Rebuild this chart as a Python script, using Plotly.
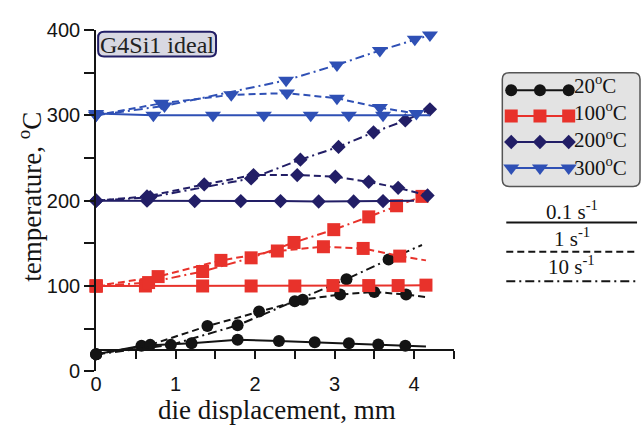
import plotly.graph_objects as go

W, H = 642, 425

# ---- data: die displacement (mm) vs temperature (°C) ----
# preheat 20 °C
T20_R01_X = [0, 0.57, 1.2, 1.78, 2.3, 2.75, 3.18, 3.55, 3.89, 4.15]
T20_R01_Y = [20, 30, 33, 37, 35.5, 34, 33, 31.5, 30, 29]
T20_R1_X = [0, 0.68, 1.4, 2.05, 2.6, 3.07, 3.5, 3.9, 4.15]
T20_R1_Y = [20, 31, 53, 70, 84, 90, 93, 90, 87]
T20_R10_X = [0, 0.94, 1.78, 2.5, 3.15, 3.68, 4.1]
T20_R10_Y = [20, 31, 54, 82, 108, 131, 148]
# preheat 100 °C
T100_R01_X = [0, 0.62, 1.34, 1.95, 2.5, 2.98, 3.43, 3.8, 4.15]
T100_R01_Y = [100, 100, 100, 100, 100, 100.5, 100.5, 100.5, 101]
T100_R1_X = [0, 0.78, 1.57, 2.28, 2.86, 3.36, 3.82, 4.15]
T100_R1_Y = [100, 111, 130, 141, 146, 144, 135, 130]
T100_R10_X = [0, 0.66, 1.34, 1.95, 2.49, 2.99, 3.43, 3.78, 4.1]
T100_R10_Y = [100, 104, 117, 133, 151, 166, 181, 194, 205]
# preheat 200 °C
T200_R01_X = [0, 0.64, 1.24, 1.82, 2.32, 2.8, 3.24, 3.61, 4.0]
T200_R01_Y = [200, 200, 199.5, 199.5, 199.5, 199, 199, 199.5, 200]
T200_R1_X = [0, 0.64, 1.36, 1.98, 2.53, 3.01, 3.43, 3.8, 4.17]
T200_R1_Y = [200, 205, 219, 230, 230, 228, 222, 215, 206]
T200_R10_X = [0, 0.68, 1.95, 2.57, 3.05, 3.49, 3.89, 4.2]
T200_R10_Y = [200, 204, 226, 248, 263, 280, 294, 307]
# preheat 300 °C
T300_R01_X = [0, 0.72, 1.47, 2.11, 2.7, 3.18, 3.61, 4.2]
T300_R01_Y = [302, 300, 300, 300, 300, 300, 300, 300]
T300_R1_X = [0, 0.82, 1.7, 2.4, 3.03, 3.57, 4.03]
T300_R1_Y = [300, 314, 324, 326, 320, 309, 302]
T300_R10_X = [0, 0.86, 2.39, 3.03, 3.57, 4.01, 4.2]
T300_R10_Y = [300, 311, 341, 359, 376, 389, 394]

TEMP_LABELS = ["20", "100", "200", "300"]
RATE_LABELS = ["0.1", "1", "10"]

# (temperature index, rate index, x, y, last point is curve end without sample marker)
SERIES = [
    (0, 0, T20_R01_X, T20_R01_Y, True),
    (0, 1, T20_R1_X, T20_R1_Y, True),
    (0, 2, T20_R10_X, T20_R10_Y, True),
    (1, 0, T100_R01_X, T100_R01_Y, False),
    (1, 1, T100_R1_X, T100_R1_Y, True),
    (1, 2, T100_R10_X, T100_R10_Y, False),
    (2, 0, T200_R01_X, T200_R01_Y, True),
    (2, 1, T200_R1_X, T200_R1_Y, False),
    (2, 2, T200_R10_X, T200_R10_Y, False),
    (3, 0, T300_R01_X, T300_R01_Y, True),
    (3, 1, T300_R1_X, T300_R1_Y, False),
    (3, 2, T300_R10_X, T300_R10_Y, False),
]

# ---- styles ----
COLORS = ["#141414", "#e8322b", "#221e66", "#2f50b5"]
SYMBOLS = ["circle", "square", "diamond", "triangle-down"]
SIZES = [12, 13, 11, 14]
DASHES = ["solid", "7px,4px", "9px,4px,2px,4px"]
SERIF = "Liberation Serif, Times New Roman, serif"
SANS = "Liberation Sans, Arial, sans-serif"
INK = "#141414"

fig = go.Figure()

for ti, ri, xs, ys, tail in SERIES:
    msize = [SIZES[ti]] * len(xs)
    if tail:
        msize[-1] = 0
    fig.add_trace(go.Scatter(
        x=xs, y=ys, mode="lines+markers",
        line=dict(color=COLORS[ti], width=2, dash=DASHES[ri]),
        marker=dict(symbol=SYMBOLS[ti], size=msize, color=COLORS[ti],
                    opacity=1, line=dict(width=0)),
        cliponaxis=False, showlegend=False, xaxis="x", yaxis="y",
    ))

# ---- legend key, drawn on a pixel-space axis right of the plot ----
KEY_LEFT = 470
KEY_X = [510, 539, 568]
KEY_FONT = 21
KEY_STEP = KEY_FONT * 1.3          # plotly line height for multi-line text
KEY_MID = 124.5
KEY_ROWS = [KEY_MID + (i - 1.5) * KEY_STEP for i in range(4)]
for ti, row in enumerate(KEY_ROWS):
    fig.add_trace(go.Scatter(
        x=KEY_X, y=[row] * len(KEY_X), mode="lines+markers",
        line=dict(color=COLORS[ti], width=2),
        marker=dict(symbol=SYMBOLS[ti], size=SIZES[ti], color=COLORS[ti],
                    line=dict(width=0)),
        showlegend=False, xaxis="x2", yaxis="y2", hoverinfo="skip",
    ))


def rounded_rect(x0, y0, x1, y1, r, to_paper=False):
    if to_paper:
        fx = lambda v: v / W
        fy = lambda v: 1 - v / H
    else:
        fx = fy = lambda v: v
    pts = [
        ("M", x0 + r, y0), ("L", x1 - r, y0), ("Q", x1, y0, x1, y0 + r),
        ("L", x1, y1 - r), ("Q", x1, y1, x1 - r, y1),
        ("L", x0 + r, y1), ("Q", x0, y1, x0, y1 - r),
        ("L", x0, y0 + r), ("Q", x0, y0, x0 + r, y0),
    ]
    parts = []
    for p in pts:
        cmd, vals = p[0], p[1:]
        coords = []
        for i in range(0, len(vals), 2):
            coords.append(f"{fx(vals[i]):.5f},{fy(vals[i + 1]):.5f}")
        parts.append(cmd + " " + " ".join(coords))
    return " ".join(parts) + " Z"


shapes = [
    dict(type="path", path=rounded_rect(501, 65, 640, 185, 7),
         xref="x2", yref="y2", fillcolor="#e3e3e3",
         line=dict(color="#555555", width=1.5), layer="below"),
    dict(type="path", path=rounded_rect(93, 22, 212, 48, 6, to_paper=True),
         xref="paper", yref="paper", fillcolor="#d8d8e2",
         line=dict(color="#221e66", width=2), layer="above"),
]

RATE_TEXT_Y = [210, 239, 268]
RATE_LINE_Y = [223, 254, 285]
for ri in range(3):
    shapes.append(dict(type="line", xref="x2", yref="y2",
                       x0=505, x1=637, y0=RATE_LINE_Y[ri], y1=RATE_LINE_Y[ri],
                       line=dict(color=INK, width=2, dash=DASHES[ri])))

annotations = [
    dict(text="die displacement, mm", x=274 / W, y=1 - 421 / H,
         xref="paper", yref="paper", showarrow=False,
         font=dict(family=SERIF, size=27, color=INK),
         xanchor="center", yanchor="middle"),
    dict(text="temperature, <sup>o</sup>C", x=24 / W, y=1 - 196 / H,
         xref="paper", yref="paper", showarrow=False, textangle=-90,
         font=dict(family=SERIF, size=27, color=INK),
         xanchor="center", yanchor="middle"),
    dict(text="G4Si1 ideal", x=152.5 / W, y=1 - 35.5 / H,
         xref="paper", yref="paper",
         showarrow=False, font=dict(family=SERIF, size=24, color="#222222"),
         xanchor="center", yanchor="middle"),
    dict(text="<br>".join(f"{t}<sup>o</sup>C" for t in TEMP_LABELS),
         x=571, y=KEY_MID - 4, xref="x2", yref="y2", showarrow=False,
         xanchor="left", yanchor="middle", align="left",
         font=dict(family=SERIF, size=KEY_FONT, color=INK)),
]
for ri in range(3):
    annotations.append(dict(
        text=f"{RATE_LABELS[ri]} s<sup>-1</sup>", x=571, y=RATE_TEXT_Y[ri],
        xref="x2", yref="y2", showarrow=False, xanchor="center",
        yanchor="middle", font=dict(family=SERIF, size=21, color=INK)))

fig.update_layout(
    width=W, height=H, autosize=False,
    margin=dict(l=0, r=0, t=0, b=0),
    paper_bgcolor="white", plot_bgcolor="white",
    showlegend=False,
    xaxis=dict(
        domain=[91 / W, 452 / W], range=[0, 4.5], anchor="free",
        position=1 - 357 / H, showline=True, linecolor=INK, linewidth=2,
        ticks="outside", ticklen=8, tickwidth=2, tickcolor=INK,
        tickvals=[0, 1, 2, 3, 4], ticklabelstandoff=8,
        minor=dict(dtick=0.5, tick0=0, ticks="outside", ticklen=8,
                   tickwidth=2, tickcolor=INK, showgrid=False),
        showgrid=False, zeroline=False,
        tickfont=dict(family=SANS, size=20, color=INK),
    ),
    yaxis=dict(
        domain=[45 / H, 405 / H], range=[0, 400], anchor="x",
        showline=True, linecolor=INK, linewidth=2,
        ticks="outside", ticklen=10, tickwidth=2, tickcolor=INK,
        tickvals=[0, 100, 200, 300, 400],
        minor=dict(dtick=50, tick0=0, ticks="outside", ticklen=10,
                   tickwidth=2, tickcolor=INK, showgrid=False),
        showgrid=False, zeroline=False,
        tickfont=dict(family=SANS, size=20, color=INK),
    ),
    xaxis2=dict(domain=[KEY_LEFT / W, 1], range=[KEY_LEFT, W], anchor="y2",
                visible=False, fixedrange=True),
    yaxis2=dict(domain=[0, 1], range=[H, 0], anchor="x2", visible=False,
                fixedrange=True),
    shapes=shapes,
    annotations=annotations,
)

fig.write_html("out.html")
